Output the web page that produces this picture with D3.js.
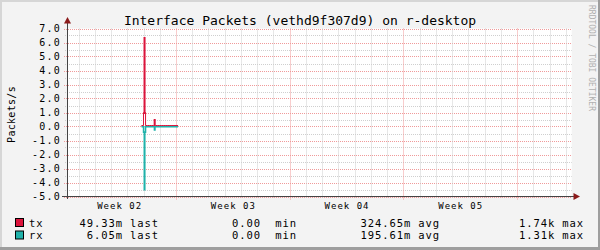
<!DOCTYPE html>
<html>
<head>
<meta charset="utf-8">
<script src="https://cdn.jsdelivr.net/npm/d3@7"></script>
<style>
  body { margin: 0; background: #f3f3f3; }
  svg text { font-family: "DejaVu Sans Mono", monospace; fill: #000; }
  .pre { white-space: pre; }
</style>
</head>
<body>
<div id="vis"></div>
<script>
// sample bins: start hour relative to the start of Week 03, 3h each
const hours = [-51, -48, -45, -42, -39, -36, -33, -30, -27, -24, -21, -18, -15, -12, -9, -6, -3, 0];
const txMax = [0.07, 6.4, 0.07, 0.07, 0.07, 0.07, 0.54, 0.07, 0.07, 0.07, 0.07, 0.07, 0.07, 0.07, 0.07, 0.07, 0.07, 0.07];
const txMin = [0.07, 0.9, 0.07, 0.07, 0.07, 0.07, 0.07, 0.07, 0.07, 0.07, 0.07, 0.07, 0.07, 0.07, 0.07, 0.07, 0.07, 0.07];
const txAvg = [0.07, 1.0, 0.07, 0.07, 0.07, 0.07, 0.07, 0.07, 0.07, 0.07, 0.07, 0.07, 0.07, 0.07, 0.07, 0.07, 0.07, 0.07];
const rxMax = [-0.01, -4.58, -0.01, -0.01, -0.01, -0.01, -0.3, -0.01, -0.01, -0.01, -0.01, -0.01, -0.01, -0.01, -0.01, -0.01, -0.01, -0.01];
const rxMin = [-0.01, -0.36, -0.01, -0.01, -0.01, -0.01, -0.01, -0.01, -0.01, -0.01, -0.01, -0.01, -0.01, -0.01, -0.01, -0.01, -0.01, -0.01];
const rxAvg = [-0.01, -0.41, -0.01, -0.01, -0.01, -0.01, -0.01, -0.01, -0.01, -0.01, -0.01, -0.01, -0.01, -0.01, -0.01, -0.01, -0.01, -0.01];
const binHours = 3;

const yTicks = [-5, -4, -3, -2, -1, 0, 1, 2, 3, 4, 5, 6, 7];
const weekLabels = ["Week 02", "Week 03", "Week 04", "Week 05"];
const weekMid = [-84, 84, 252, 420];
const weekStarts = [0, 168, 336, 504];

const seriesNames = ["tx", "rx"];
const seriesColors = ["#dc143c", "#20b2aa"];
const lastVals = ["49.33m", "6.05m"];
const minVals = ["0.00", "0.00"];
const avgVals = ["324.65m", "195.61m"];
const maxVals = ["1.74k", "1.31k"];

const W = 600, H = 250;
const svg = d3.select("#vis").append("svg").attr("width", W).attr("height", H);

// frame
svg.append("rect").attr("width", W).attr("height", H).attr("fill", "#f3f3f3");
svg.append("rect").attr("x", 0).attr("y", 0).attr("width", W).attr("height", 2).attr("fill", "#d6d6d6");
svg.append("rect").attr("x", 0).attr("y", 0).attr("width", 2).attr("height", H).attr("fill", "#d6d6d6");
svg.append("rect").attr("x", W - 2).attr("y", 0).attr("width", 2).attr("height", H).attr("fill", "#9e9e9e");
svg.append("rect").attr("x", 0).attr("y", H - 3).attr("width", W).attr("height", 3).attr("fill", "#9e9e9e");

const x = d3.scaleLinear().domain([-161.1, 584.8]).range([67, 571.7]);
const y = d3.scaleLinear().domain([-5, 7]).range([196.5, 28.5]);

svg.append("rect")
  .attr("x", x.range()[0]).attr("y", y(7))
  .attr("width", x.range()[1] - x.range()[0]).attr("height", y(-5) - y(7))
  .attr("fill", "#fff");

// grid
const grid = svg.append("g");
const halfSteps = d3.range(-5, 7.01, 0.5);
halfSteps.forEach(v => {
  const major = Math.abs(v - Math.round(v)) < 1e-6;
  grid.append("line")
    .attr("x1", major ? 64 : 65).attr("x2", x.range()[1])
    .attr("y1", Math.round(y(v)) + 0.5).attr("y2", Math.round(y(v)) + 0.5)
    .attr("stroke", major ? "#f09a9a" : "#cfcfcf")
    .attr("stroke-dasharray", "1,1");
});
const days = d3.range(-144, 585, 24);
days.forEach(h => {
  const major = weekStarts.includes(h);
  const px = Math.round(x(h)) + 0.5;
  grid.append("line")
    .attr("x1", px).attr("x2", px)
    .attr("y1", y(7)).attr("y2", y(-5) + (major ? 3 : 2))
    .attr("stroke", major ? "#f09a9a" : "#cfcfcf")
    .attr("stroke-dasharray", "1,1");
});

// data
function points(vals) {
  const pts = hours.map((h, i) => [h, vals[i]]);
  pts.push([hours[hours.length - 1] + binHours, vals[vals.length - 1]]);
  return pts;
}
const area = d3.area().curve(d3.curveStepAfter)
  .x(d => x(d[0])).y0(y(0)).y1(d => y(d[1]));
const line = d3.line().curve(d3.curveStepAfter)
  .x(d => x(d[0])).y(d => y(d[1]));

const plot = svg.append("g");
plot.append("path").attr("d", area(points(txMax))).attr("fill", seriesColors[0]);
plot.append("path").attr("d", area(points(txMin))).attr("fill", "#fff");
plot.append("path").attr("d", area(points(rxMax))).attr("fill", seriesColors[1]);
plot.append("path").attr("d", area(points(rxMin))).attr("fill", "#fff");
plot.append("path").attr("d", line(points(rxAvg))).attr("fill", "none")
  .attr("stroke", seriesColors[1]).attr("stroke-width", 1.5);
plot.append("path").attr("d", line(points(txAvg))).attr("fill", "none")
  .attr("stroke", seriesColors[0]).attr("stroke-width", 1);

// axes
const yAxis = svg.append("g")
  .attr("transform", "translate(67,0)")
  .call(d3.axisLeft(y).tickValues(yTicks).tickSize(0).tickPadding(6).tickFormat(d => d.toFixed(1)));
yAxis.select(".domain").remove();
yAxis.selectAll("text")
  .style("font-family", "DejaVu Sans Mono").style("font-size", "10px")
  .style("letter-spacing", "1.2px");

const xAxis = svg.append("g")
  .attr("transform", "translate(0,196.5)")
  .call(d3.axisBottom(x).tickValues(weekMid).tickSize(0).tickPadding(6)
    .tickFormat((d, i) => weekLabels[i]));
xAxis.select(".domain").remove();
xAxis.selectAll("text")
  .style("font-family", "DejaVu Sans Mono").style("font-size", "9px")
  .style("letter-spacing", "1px");

svg.append("line").attr("x1", 67.5).attr("x2", 67.5).attr("y1", 199).attr("y2", 22)
  .attr("stroke", "#444");
svg.append("line").attr("x1", 62).attr("x2", 574).attr("y1", 196.5).attr("y2", 196.5)
  .attr("stroke", "#444");
svg.append("path").attr("d", "M64,23.5L71,23.5L67.5,17Z").attr("fill", "#8b1a1a");
svg.append("path").attr("d", "M573.5,193L573.5,200L580,196.5Z").attr("fill", "#8b1a1a");

// title & labels
svg.append("text").attr("x", 300).attr("y", 24.5).attr("text-anchor", "middle")
  .style("font-size", "13px").text("Interface Packets (vethd9f307d9) on r-desktop");
svg.append("text").attr("transform", "translate(15,114.5) rotate(-90)")
  .attr("text-anchor", "middle").style("font-size", "10px").style("letter-spacing", "0.3px")
  .text("Packets/s");
svg.append("text").attr("transform", "translate(589,5) rotate(90)")
  .style("font-size", "8px").style("fill", "#b0b0b0")
  .text("RRDTOOL / TOBI OETIKER");

// legend
const legend = svg.append("g").style("font-size", "10.5px").style("letter-spacing", "0.9px");
seriesNames.forEach((name, i) => {
  const base = 226.5 + i * 12.5;
  legend.append("rect").attr("x", 15.5).attr("y", base - 8).attr("width", 8).attr("height", 8)
    .attr("fill", seriesColors[i]).attr("stroke", "#000");
  legend.append("text").attr("x", 29).attr("y", base).text(name);
  legend.append("text").attr("class", "pre").attr("x", 159).attr("y", base)
    .attr("text-anchor", "end").text(`${lastVals[i]} last`);
  legend.append("text").attr("class", "pre").attr("x", 297).attr("y", base)
    .attr("text-anchor", "end").text(`${minVals[i]}  min`);
  legend.append("text").attr("class", "pre").attr("x", 440).attr("y", base)
    .attr("text-anchor", "end").text(`${avgVals[i]} avg`);
  legend.append("text").attr("class", "pre").attr("x", 584).attr("y", base)
    .attr("text-anchor", "end").text(`${maxVals[i]} max`);
});
</script>
</body>
</html>
